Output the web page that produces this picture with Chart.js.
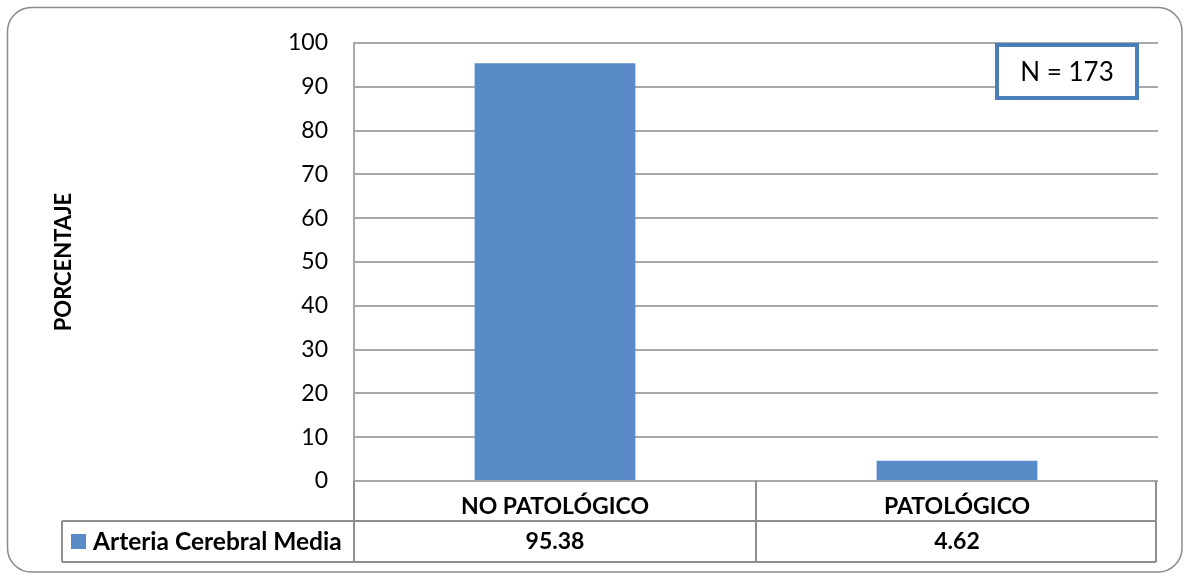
<!DOCTYPE html>
<html>
<head>
<meta charset="utf-8">
<script src="https://cdn.jsdelivr.net/npm/chart.js@4"></script>
<style>
  html, body { margin: 0; padding: 0; background: #ffffff; }
  #wrap { width: 1187px; height: 581px; position: relative; }
</style>
</head>
<body>
<div id="wrap"><canvas id="chart"></canvas></div>
<script>
// Chart data
const categories = ['NO PATOLÓGICO', 'PATOLÓGICO'];
const seriesName = 'Arteria Cerebral Media';
const seriesValues = [95.38, 4.62];
const yTicks = [0, 10, 20, 30, 40, 50, 60, 70, 80, 90, 100];
const yTitle = 'PORCENTAJE';
const sampleNote = 'N = 173';

const FONT = "Lato, 'Open Sans', sans-serif";
const BAR_COLOR = '#5A8BC9';
const GRID_COLOR = '#a8a8a8';
const TABLE_COLOR = '#8e8e8e';

// Rounded outer frame around the whole chart
const framePlugin = {
  id: 'frame',
  beforeDraw(chart) {
    const ctx = chart.ctx;
    ctx.save();
    ctx.fillStyle = '#ffffff';
    ctx.fillRect(0, 0, chart.width, chart.height);
    const x0 = 7.5, y0 = 7.5, x1 = 1182, y1 = 572, r = 24;
    ctx.beginPath();
    ctx.moveTo(x0 + r, y0);
    ctx.lineTo(x1 - r, y0);
    ctx.arcTo(x1, y0, x1, y0 + r, r);
    ctx.lineTo(x1, y1 - r);
    ctx.arcTo(x1, y1, x1 - r, y1, r);
    ctx.lineTo(x0 + r, y1);
    ctx.arcTo(x0, y1, x0, y1 - r, r);
    ctx.lineTo(x0, y0 + r);
    ctx.arcTo(x0, y0, x0 + r, y0, r);
    ctx.closePath();
    ctx.strokeStyle = '#8a8a8a';
    ctx.lineWidth = 1.5;
    ctx.stroke();
    ctx.restore();
  }
};

// Data table under the plot, axis title and the sample-size note
const tablePlugin = {
  id: 'dataTable',
  afterDraw(chart) {
    const ctx = chart.ctx;
    const area = chart.chartArea;
    const xs = chart.scales.x;
    const n = categories.length;
    const catW = area.width / n;
    const rowTop = area.bottom;
    const rowMid = rowTop + 40;
    const rowBot = rowTop + 81;
    const legendLeft = 62;

    ctx.save();
    ctx.strokeStyle = TABLE_COLOR;
    ctx.lineWidth = 2;
    ctx.beginPath();
    // horizontal rules
    ctx.moveTo(legendLeft, rowMid); ctx.lineTo(area.right - 2, rowMid);
    ctx.moveTo(legendLeft, rowBot); ctx.lineTo(area.right - 2, rowBot);
    // vertical rules
    ctx.moveTo(legendLeft, rowMid); ctx.lineTo(legendLeft, rowBot);
    for (let i = 0; i <= n; i++) {
      const vx = Math.round(i === n ? area.right - 2 : area.left + i * catW);
      ctx.moveTo(vx, rowTop); ctx.lineTo(vx, rowBot);
    }
    ctx.stroke();

    // category names and values
    ctx.fillStyle = '#000000';
    ctx.textAlign = 'center';
    ctx.textBaseline = 'middle';
    ctx.font = 'bold 23px ' + FONT;
    categories.forEach((c, i) => {
      const cx = xs.getPixelForValue(i);
      ctx.fillText(c, cx, rowTop + 26);
      ctx.fillText(seriesValues[i].toFixed(2), cx, rowMid + 21);
    });

    // legend key cell
    ctx.fillStyle = BAR_COLOR;
    ctx.fillRect(71, rowMid + 13, 15, 15);
    ctx.fillStyle = '#000000';
    ctx.textAlign = 'left';
    ctx.font = 'bold 24.5px ' + FONT;
    ctx.fillText(seriesName, 93, rowMid + 21);

    // vertical axis title, centred on the plot height
    ctx.save();
    ctx.translate(64, (area.top + area.bottom) / 2);
    ctx.rotate(-Math.PI / 2);
    ctx.textAlign = 'center';
    ctx.font = 'bold 22px ' + FONT;
    ctx.fillText(yTitle, 0, 0);
    ctx.restore();

    // sample size box
    const bx = 997, by = 45, bw = 140, bh = 53;
    ctx.fillStyle = '#ffffff';
    ctx.fillRect(bx, by, bw, bh);
    ctx.strokeStyle = '#4A7EBB';
    ctx.lineWidth = 4;
    ctx.strokeRect(bx, by, bw, bh);
    ctx.fillStyle = '#000000';
    ctx.textAlign = 'center';
    ctx.font = '26px ' + FONT;
    ctx.fillText(sampleNote, bx + bw / 2, by + bh / 2 + 1);
    ctx.restore();
  }
};

new Chart(document.getElementById('chart'), {
  type: 'bar',
  data: {
    labels: categories,
    datasets: [{
      label: seriesName,
      data: seriesValues,
      backgroundColor: BAR_COLOR,
      borderWidth: 0,
      categoryPercentage: 1,
      barPercentage: 0.4
    }]
  },
  options: {
    responsive: true,
    maintainAspectRatio: false,
    animation: false,
    devicePixelRatio: 1,
    layout: { padding: { left: 0, right: 29, top: 43, bottom: 100 } },
    plugins: {
      legend: { display: false },
      tooltip: { enabled: false },
      title: { display: false }
    },
    scales: {
      x: { display: false },
      y: {
        min: yTicks[0],
        max: yTicks[yTicks.length - 1],
        afterBuildTicks(scale) { scale.ticks = yTicks.map(v => ({ value: v })); },
        afterFit(scale) { scale.width = 354; },
        ticks: {
          color: '#000000',
          padding: 26,
          font: { family: FONT, size: 23 }
        },
        grid: { color: GRID_COLOR, lineWidth: 2, drawTicks: false },
        border: { display: true, color: GRID_COLOR, width: 2 }
      }
    }
  },
  plugins: [framePlugin, tablePlugin]
});
</script>
</body>
</html>
